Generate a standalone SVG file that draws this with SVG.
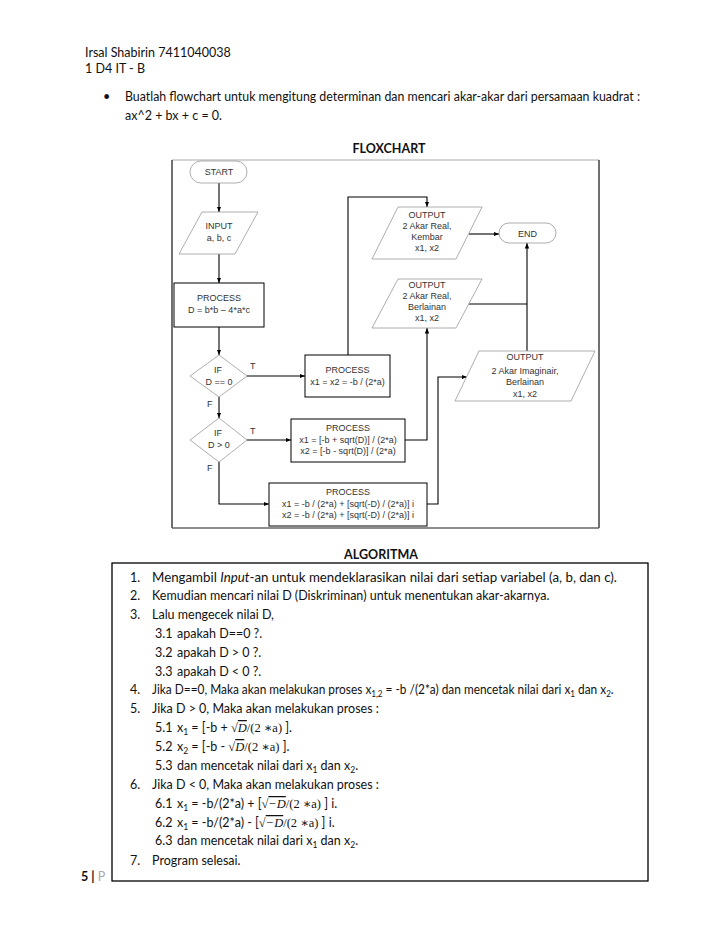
<svg xmlns="http://www.w3.org/2000/svg" width="728" height="942" viewBox="0 0 728 942">
<defs>
<style>
.fc{font-family:"Liberation Sans",Arial,sans-serif;font-size:9px;fill:#333;text-anchor:middle}
.lbl{font-family:"Liberation Sans",Arial,sans-serif;font-size:9px;fill:#333}
.term,.io,.dec{fill:#fff;stroke:#999;stroke-width:0.8}
.proc{fill:#fff;stroke:#000;stroke-width:1}
.conn{fill:none;stroke:#000;stroke-width:1.1}
.doc{font-family:Lato,"Open Sans",sans-serif;font-size:12.5px;fill:#111}
.bold{font-weight:bold}
.sub{font-size:8.5px}
.m{font-family:"Liberation Serif","DejaVu Serif",serif}
</style>
<marker id="ah" viewBox="0 0 10 10" refX="10" refY="5" markerWidth="5" markerHeight="5" orient="auto"><path d="M0,1 L10,5 L0,9 z" fill="#000"/></marker>
</defs>
<rect width="728" height="942" fill="#fff"/>

<g id="header">
<text class="doc" x="85" y="56.5">Irsal Shabirin 7411040038</text>
<text class="doc" x="85" y="72.5">1 D4 IT - B</text>
<text class="doc" x="103" y="100.5">•</text>
<text class="doc" x="125" y="100.5" textLength="515" lengthAdjust="spacingAndGlyphs">Buatlah flowchart untuk mengitung determinan dan mencari akar-akar dari persamaan kuadrat :</text>
<text class="doc" x="125" y="119.5">ax^2 + bx + c = 0.</text>
<text class="doc bold" x="389" y="153" text-anchor="middle">FLOXCHART</text>
</g>

<g id="frame">
<line x1="172" y1="160" x2="599" y2="160" stroke="#aaa" stroke-width="1"/>
<line x1="172" y1="160" x2="172" y2="528" stroke="#111" stroke-width="1.2"/>
<line x1="599" y1="160" x2="599" y2="528" stroke="#111" stroke-width="1.2"/>
<line x1="172" y1="528" x2="599" y2="528" stroke="#666" stroke-width="1.5"/>
</g>

<g id="connectors">
<path class="conn" d="M219,183 V212" marker-end="url(#ah)"/>
<path class="conn" d="M219,254 V283" marker-end="url(#ah)"/>
<path class="conn" d="M219,327 V355" marker-end="url(#ah)"/>
<path class="conn" d="M247,376 H305" marker-end="url(#ah)"/>
<path class="conn" d="M219,397 V418" marker-end="url(#ah)"/>
<path class="conn" d="M247,440 H291" marker-end="url(#ah)"/>
<path class="conn" d="M219,462 V504 H269" marker-end="url(#ah)"/>
<path class="conn" d="M348,355 V197 H427 V207" marker-end="url(#ah)"/>
<path class="conn" d="M405,440 H427 V328" marker-end="url(#ah)"/>
<path class="conn" d="M427,504 H438 V377 H467" marker-end="url(#ah)"/>
<path class="conn" d="M469,234 H499" marker-end="url(#ah)"/>
<path class="conn" d="M469,304 H527"/>
<path class="conn" d="M527,351 V243" marker-end="url(#ah)"/>
</g>

<g id="start">
<rect class="term" x="190" y="161" width="57" height="22" rx="11"/>
<text class="fc" x="219" y="175">START</text>
</g>
<g id="input">
<polygon class="io" points="202,212 258,212 235,254 179,254"/>
<text class="fc" x="219" y="229">INPUT</text>
<text class="fc" x="219" y="241">a, b, c</text>
</g>
<g id="process-d">
<rect class="proc" x="174" y="283" width="90" height="44"/>
<text class="fc" x="219" y="301">PROCESS</text>
<text class="fc" x="219" y="313">D = b*b – 4*a*c</text>
</g>
<g id="if-d0">
<polygon class="dec" points="219,355 247,376 219,397 190,376"/>
<text class="fc" x="218" y="373">IF</text>
<text class="fc" x="219" y="385">D == 0</text>
<text class="lbl" x="250" y="369">T</text>
<text class="lbl" x="207" y="407">F</text>
</g>
<g id="if-dpos">
<polygon class="dec" points="219,418 247,440 219,462 190,440"/>
<text class="fc" x="218" y="436">IF</text>
<text class="fc" x="219" y="448">D &gt; 0</text>
<text class="lbl" x="250" y="434">T</text>
<text class="lbl" x="207" y="471">F</text>
</g>
<g id="process-1">
<rect class="proc" x="305" y="355" width="85" height="42"/>
<text class="fc" x="347.5" y="373">PROCESS</text>
<text class="fc" x="347.5" y="385">x1 = x2 = -b / (2*a)</text>
</g>
<g id="process-2">
<rect class="proc" x="291" y="419" width="114" height="43"/>
<text class="fc" x="348" y="431">PROCESS</text>
<text class="fc" x="348" y="443">x1 = [-b + sqrt(D)] / (2*a)</text>
<text class="fc" x="348" y="454">x2 = [-b - sqrt(D)] / (2*a)</text>
</g>
<g id="process-3">
<rect class="proc" x="269" y="483" width="158" height="43"/>
<text class="fc" x="348" y="495">PROCESS</text>
<text class="fc" x="348" y="507">x1 = -b / (2*a) + [sqrt(-D) / (2*a)] i</text>
<text class="fc" x="348" y="518">x2 = -b / (2*a) + [sqrt(-D) / (2*a)] i</text>
</g>
<g id="output-kembar">
<polygon class="io" points="398,207 482,207 456,259 372,259"/>
<text class="fc" x="427" y="218">OUTPUT</text>
<text class="fc" x="427" y="229">2 Akar Real,</text>
<text class="fc" x="427" y="240">Kembar</text>
<text class="fc" x="427" y="251">x1, x2</text>
</g>
<g id="output-berlainan">
<polygon class="io" points="398,279 482,279 456,328 372,328"/>
<text class="fc" x="427" y="288">OUTPUT</text>
<text class="fc" x="427" y="299">2 Akar Real,</text>
<text class="fc" x="427" y="310">Berlainan</text>
<text class="fc" x="427" y="321">x1, x2</text>
</g>
<g id="end">
<rect class="term" x="499" y="223" width="57" height="20" rx="10"/>
<text class="fc" x="527.5" y="236.5">END</text>
</g>
<g id="output-imaginair">
<polygon class="io" points="479,351 595,351 571,401 455,401"/>
<text class="fc" x="525" y="360">OUTPUT</text>
<text class="fc" x="525" y="374">2 Akar Imaginair,</text>
<text class="fc" x="525" y="385">Berlainan</text>
<text class="fc" x="525" y="397">x1, x2</text>
</g>

<g id="algoritma">
<text class="doc bold" x="381" y="559" text-anchor="middle">ALGORITMA</text>
<rect x="112" y="563" width="536" height="318" fill="none" stroke="#000" stroke-width="1.3"/>
<text class="doc" x="130" y="581.5">1.</text>
<text class="doc" x="152" y="581.5" textLength="465" lengthAdjust="spacingAndGlyphs">Mengambil <tspan font-style="italic">Input</tspan>-an untuk mendeklarasikan nilai dari setiap variabel (a,  b, dan c).</text>
<text class="doc" x="130" y="600">2.</text>
<text class="doc" x="152" y="600">Kemudian mencari nilai D (Diskriminan) untuk menentukan akar-akarnya.</text>
<text class="doc" x="130" y="619">3.</text>
<text class="doc" x="152" y="619">Lalu mengecek nilai D,</text>
<text class="doc" x="155" y="638">3.1</text>
<text class="doc" x="177" y="638">apakah D==0 ?.</text>
<text class="doc" x="155" y="656.5">3.2</text>
<text class="doc" x="177" y="656.5">apakah D &gt; 0 ?.</text>
<text class="doc" x="155" y="675.5">3.3</text>
<text class="doc" x="177" y="675.5">apakah D &lt; 0 ?.</text>
<text class="doc" x="130" y="694">4.</text>
<text class="doc" transform="translate(152,694) scale(0.95,1)" x="0" y="0">Jika D==0, Maka akan melakukan proses x<tspan class="sub" dy="3">1,2</tspan><tspan dy="-3"> = -b /(2*a) dan mencetak nilai dari x</tspan><tspan class="sub" dy="3">1</tspan><tspan dy="-3"> dan x</tspan><tspan class="sub" dy="3">2</tspan><tspan dy="-3">.</tspan></text>
<text class="doc" x="130" y="713">5.</text>
<text class="doc" x="152" y="713">Jika D &gt; 0, Maka akan melakukan proses :</text>
<text class="doc" x="155" y="732">5.1</text>
<text class="doc" x="177" y="732">x<tspan class="sub" dy="3">1</tspan><tspan dy="-3"> = [-b + </tspan><tspan class="m">√</tspan><tspan class="m" font-style="italic" text-decoration="overline">D</tspan><tspan class="m">/(2 ∗a)</tspan> ].</text>
<text class="doc" x="155" y="751">5.2</text>
<text class="doc" x="177" y="751">x<tspan class="sub" dy="3">2</tspan><tspan dy="-3"> = [-b - </tspan><tspan class="m">√</tspan><tspan class="m" font-style="italic" text-decoration="overline">D</tspan><tspan class="m">/(2 ∗a)</tspan> ].</text>
<text class="doc" x="155" y="770">5.3</text>
<text class="doc" x="177" y="770">dan mencetak nilai dari x<tspan class="sub" dy="3">1</tspan><tspan dy="-3"> dan x</tspan><tspan class="sub" dy="3">2</tspan><tspan dy="-3">.</tspan></text>
<text class="doc" x="130" y="789">6.</text>
<text class="doc" x="152" y="789">Jika D &lt; 0, Maka akan melakukan proses :</text>
<text class="doc" x="155" y="808">6.1</text>
<text class="doc" x="177" y="808">x<tspan class="sub" dy="3">1</tspan><tspan dy="-3"> = -b/(2*a) + [</tspan><tspan class="m">√</tspan><tspan class="m" font-style="italic" text-decoration="overline">−D</tspan><tspan class="m">/(2 ∗a)</tspan> ] i.</text>
<text class="doc" x="155" y="827">6.2</text>
<text class="doc" x="177" y="827">x<tspan class="sub" dy="3">1</tspan><tspan dy="-3"> = -b/(2*a) - [</tspan><tspan class="m">√</tspan><tspan class="m" font-style="italic" text-decoration="overline">−D</tspan><tspan class="m">/(2 ∗a)</tspan> ] i.</text>
<text class="doc" x="155" y="845">6.3</text>
<text class="doc" x="177" y="845">dan mencetak nilai dari x<tspan class="sub" dy="3">1</tspan><tspan dy="-3"> dan x</tspan><tspan class="sub" dy="3">2</tspan><tspan dy="-3">.</tspan></text>
<text class="doc" x="130" y="864.5">7.</text>
<text class="doc" x="152" y="864.5">Program selesai.</text>
</g>

<g id="footer">
<text class="doc" x="81" y="881"><tspan font-weight="bold" fill="#111">5 |</tspan><tspan fill="#aaa"> P</tspan></text>
</g>
</svg>
